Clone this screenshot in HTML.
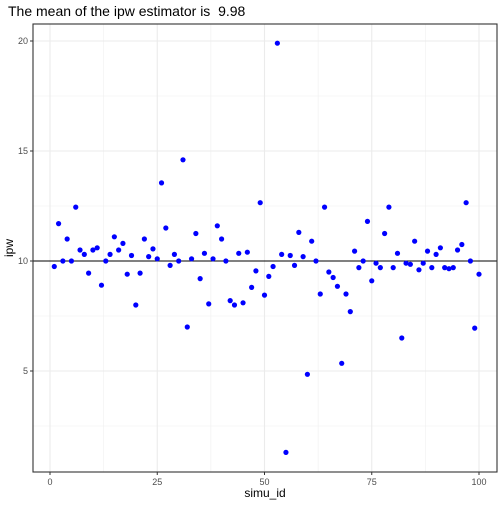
<!DOCTYPE html>
<html><head><meta charset="utf-8"><style>
body{margin:0;background:#fff;font-family:"Liberation Sans",Arial,sans-serif}
</style></head><body>
<svg id="chart" width="504" height="504" xmlns="http://www.w3.org/2000/svg" font-family="Liberation Sans, Arial, sans-serif"></svg>
<script>
const values=[9.75,11.7,10.0,11.0,10.0,12.45,10.5,10.3,9.45,10.5,10.6,8.9,10.0,10.3,11.1,10.5,10.8,9.4,10.25,8.0,9.45,11.0,10.2,10.55,10.1,13.55,11.5,9.8,10.3,10.0,14.6,7.0,10.1,11.25,9.2,10.35,8.05,10.1,11.6,11.0,10.0,8.2,8.0,10.35,8.1,10.4,8.8,9.55,12.65,8.45,9.3,9.75,19.9,10.3,1.3,10.25,9.8,11.3,10.2,4.85,10.9,10.0,8.5,12.45,9.5,9.25,8.85,5.35,8.5,7.7,10.45,9.7,10.0,11.8,9.1,9.9,9.7,11.25,12.45,9.7,10.35,6.5,9.9,9.85,10.9,9.6,9.9,10.45,9.7,10.3,10.6,9.7,9.65,9.7,10.5,10.75,12.65,10.0,6.95,9.4];
const xTicks=[0,25,50,75,100];
const yTicks=[5,10,15,20];
const meanValue=9.98;
const svg=document.getElementById('chart');
const NS='http://www.w3.org/2000/svg';
const L=33,R=497,T=24,B=472;
const sx=v=>50+(v)*4.29;
const sy=v=>261-22*(v-10);
function mk(tag,attrs,parent){const e=document.createElementNS(NS,tag);for(const k in attrs)e.setAttribute(k,attrs[k]);(parent||svg).appendChild(e);return e;}
const title=mk('text',{x:8,y:16,'font-size':14,fill:'#000'});
title.textContent='The mean of the ipw estimator is\u00a0 '+meanValue.toFixed(2);


const bg=mk('rect',{x:L,y:T,width:R-L,height:B-T,fill:'#fff'});


for(let i=0;i<xTicks.length-1;i++){const m=(xTicks[i]+xTicks[i+1])/2;const g=mk('line',{x1:sx(m),x2:sx(m),y1:T,y2:B,stroke:'#f0f0f0','stroke-width':0.6});}
for(const m of [2.5,7.5,12.5,17.5]){const g=mk('line',{x1:L,x2:R,y1:sy(m),y2:sy(m),stroke:'#f0f0f0','stroke-width':0.6});}
for(const t of xTicks){const g=mk('line',{x1:sx(t),x2:sx(t),y1:T,y2:B,stroke:'#ebebeb','stroke-width':1.1});
 const tk=mk('line',{x1:sx(t),x2:sx(t),y1:B,y2:B+3,stroke:'#333'});
 const lb=mk('text',{x:sx(t),y:B+13,'font-size':9,fill:'#4d4d4d','text-anchor':'middle'});lb.textContent=t;}
for(const t of yTicks){const g=mk('line',{x1:L,x2:R,y1:sy(t),y2:sy(t),stroke:'#ebebeb','stroke-width':1.1});
 const tk=mk('line',{x1:L-3,x2:L,y1:sy(t),y2:sy(t),stroke:'#333'});
 const lb=mk('text',{x:L-5,y:sy(t)+3,'font-size':9,fill:'#4d4d4d','text-anchor':'end'});lb.textContent=t;}
const ml=mk('line',{x1:L,x2:R,y1:sy(10),y2:sy(10),stroke:'#000','stroke-width':1.1});


values.forEach((v,i)=>{const c=mk('circle',{cx:sx(i+1),cy:sy(v),r:2.6,fill:'#0000ff'});

});
const border=mk('rect',{x:L,y:T,width:R-L,height:B-T,fill:'none',stroke:'#333','stroke-width':1.1});


const xt=mk('text',{x:(L+R)/2,y:497,'font-size':12,fill:'#000','text-anchor':'middle'});xt.textContent='simu_id';


const yt=mk('text',{x:0,y:0,'font-size':12,fill:'#000','text-anchor':'middle',transform:'translate(13,'+((T+B)/2)+') rotate(-90)'});yt.textContent='ipw';


</script>
</body></html>
